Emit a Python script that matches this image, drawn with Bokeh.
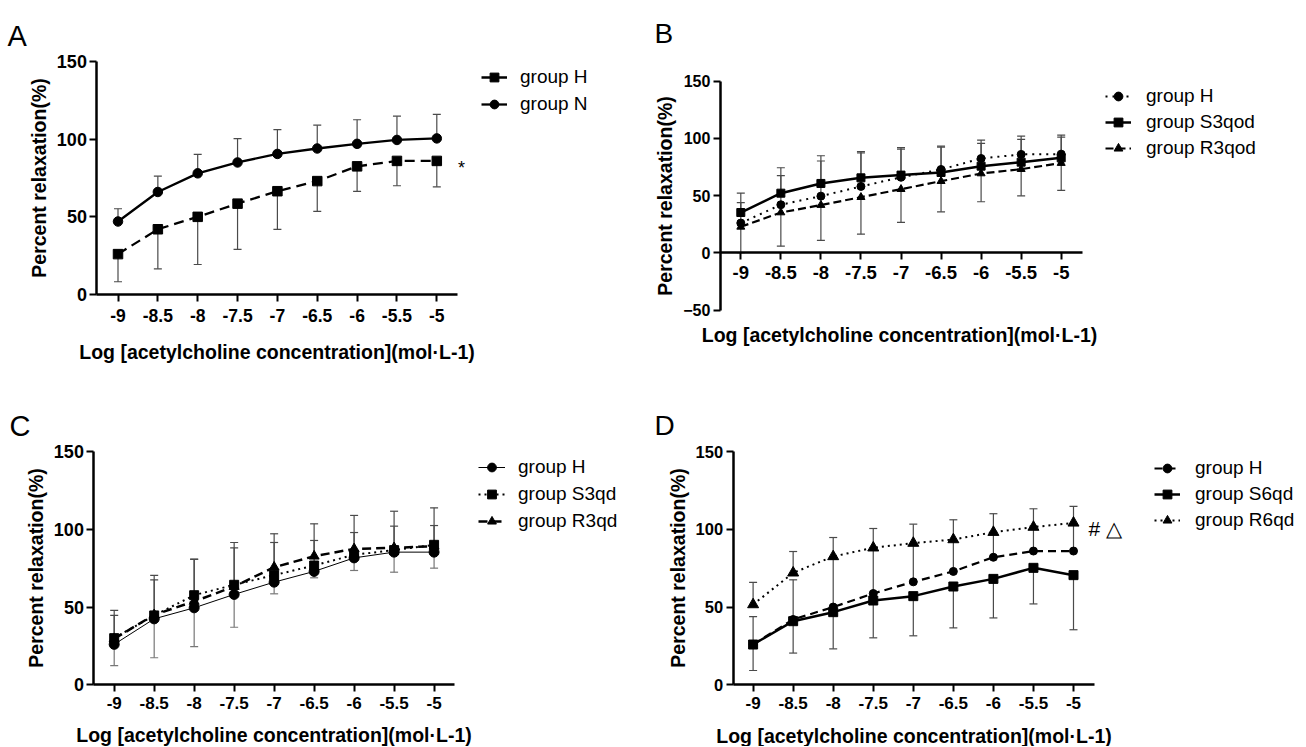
from bokeh.plotting import figure
from bokeh.models import Range1d, FixedTicker, NumeralTickFormatter, Legend, LegendItem, Label
from bokeh.layouts import column, row
from bokeh.embed import file_html
from bokeh.resources import INLINE

# ---------------- data ----------------
conc = [-9, -8.5, -8, -7.5, -7, -6.5, -6, -5.5, -5]
y_ticks = [0, 50, 100, 150]
y_ticks_b = [-50, 0, 50, 100, 150]
x_title = "Log [acetylcholine concentration](mol·L-1)"
y_title = "Percent relaxation(%)"
panel_letters = ["A", "B", "C", "D"]

# panel A
a_H_mean = [26, 42, 50, 58.5, 66.5, 73, 82.5, 86, 86]
a_H_sd = [17.8, 25.5, 30.7, 29.4, 24.6, 19.5, 16.1, 16.0, 16.7]
a_N_mean = [47, 66, 78, 85, 90.5, 94, 97, 99.5, 100.5]
a_N_sd = [8.2, 10.2, 12.2, 15.3, 15.7, 15.0, 15.5, 15.3, 15.4]

# panel B
b_H_mean = [26, 42, 49.5, 58, 66, 72.8, 82.4, 86, 86.2]
b_H_sd = [17.8, 25.5, 30.7, 29.4, 24.6, 19.5, 16.1, 16.0, 16.7]
b_S_mean = [35.2, 52.1, 60.6, 65.5, 67.9, 70.2, 75.7, 79.2, 83]
b_S_sd = [17, 22.2, 24.2, 23, 24, 23, 20, 20, 18]
b_R_mean = [22.7, 35.2, 41.7, 48.6, 55.6, 62.6, 69.3, 73.1, 78.4]
b_R_sd = [22.5, 29.4, 30.9, 32.3, 29.1, 26.8, 24.7, 23.3, 23.9]

# panel C
c_H_mean = [26, 42.4, 49.5, 58.1, 66, 72.9, 81.6, 85.3, 85.3]
c_H_sd = [13.7, 25, 24.9, 21.1, 7.5, 4.1, 8.1, 12.9, 10.3]
c_S_mean = [30, 44.6, 57.6, 64.3, 70.5, 76.7, 83.6, 86.6, 90]
c_S_sd = [14.6, 22.9, 23.2, 23.8, 21, 16.1, 14.3, 15.4, 12.4]
c_R_mean = [29.6, 45, 53.6, 63.2, 75.6, 82.7, 87.4, 88.1, 89.1]
c_R_sd = [18.2, 25.3, 27, 28.3, 21.5, 20.8, 21.5, 23.5, 24.7]

# panel D
d_H_mean = [26, 42, 50, 58.7, 66.2, 72.9, 82, 86, 86]
d_H_sd = [17.8, 25.5, 30.7, 29.4, 24.6, 19.5, 16.1, 16.0, 16.7]
d_S_mean = [25.9, 40.9, 46.7, 54.2, 57, 63.2, 68.1, 75.2, 70.5]
d_S_sd = [16.7, 20.5, 23.6, 24, 25.5, 26.6, 25.1, 23.2, 35.1]
d_R_mean = [51.6, 72, 82.5, 88.1, 91.1, 93.4, 98.1, 101.4, 104.1]
d_R_sd = [14.2, 13.7, 12.2, 12.4, 12.2, 12.7, 11.9, 11.8, 10.6]

FONT = "Liberation Sans"
BAR = "#4a4a4a"

# ---------------- geometry (reference pixel layout) ----------------
# ox, oy: page position of the figure's top-left; x9: pixel of x=-9; sx: px per x unit;
# y0: pixel of y=0; sy: px per y unit; yax: pixel column of the y axis; xend: right end of x axis
geom = {
    "A": dict(ox=0, oy=0, fw=640, fh=372, x9=117.5, sx=79.7, y0=294, sy=1.5533, yax=96.4, xend=457.3,
              yb=(0, 150), xtick=17.5, ytick=18, xt=19.5, yt=19.5, xls=7, xts=16, yls=3, yts=3),
    "B": dict(ox=640, oy=0, fw=665, fh=372, x9=740.3, sx=80.1, y0=252.3, sy=1.1444, yax=719.9, xend=1081.8,
              yb=(-50, 150), xtick=18.5, ytick=16, xt=19.5, yt=19.5, xls=6, xts=12, yls=3, yts=4),
    "C": dict(ox=0, oy=372, fw=640, fh=374, x9=113.7, sx=79.97, y0=684.3, sy=1.5553, yax=93.4, xend=454.3,
              yb=(0, 150), xtick=17, ytick=18, xt=19.5, yt=19.5, xls=5, xts=12, yls=3, yts=3),
    "D": dict(ox=640, oy=372, fw=665, fh=374, x9=752.6, sx=80.1, y0=684.3, sy=1.5553, yax=732.6, xend=1093.7,
              yb=(0, 150), xtick=17, ytick=16.5, xt=19.5, yt=19.5, xls=5, xts=13, yls=3, yts=4),
}


def to_data(g, px, py):
    return -9 + (px - g["x9"]) / g["sx"], (g["y0"] - py) / g["sy"]


def make_panel(key, series, legend_spec, yt_list, x_title_label=None):
    g = geom[key]
    x0, y1 = to_data(g, g["ox"], g["oy"])
    x1, y0 = to_data(g, g["ox"] + g["fw"], g["oy"] + g["fh"])
    p = figure(width=g["fw"], height=g["fh"],
               x_range=Range1d(x0, x1), y_range=Range1d(y0, y1),
               output_backend="svg", toolbar_location=None,
               min_border=0, min_border_left=0, min_border_right=0,
               min_border_top=0, min_border_bottom=0)
    p.outline_line_color = None
    p.grid.visible = False

    for ax in (p.xaxis[0], p.yaxis[0]):
        ax.axis_line_width = 2.5
        ax.axis_line_color = "black"
        ax.major_tick_line_width = 2
        ax.major_tick_out = 7
        ax.major_tick_in = 0
        ax.minor_tick_out = 0
        ax.minor_tick_in = 0
        ax.major_label_text_font = FONT
        ax.major_label_text_font_style = "bold"
        ax.major_label_text_color = "black"
        ax.axis_label_text_font = FONT
        ax.axis_label_text_font_style = "bold"
        ax.axis_label_text_color = "black"

    yax_x, _ = to_data(g, g["yax"], 0)
    xend, _ = to_data(g, g["xend"], 0)
    p.xaxis.fixed_location = 0
    p.xaxis.bounds = (yax_x, xend)
    p.xaxis.ticker = FixedTicker(ticks=conc)
    p.xaxis.formatter = NumeralTickFormatter(format="0.[0]")
    p.xaxis.major_label_standoff = g["xls"]
    p.xaxis.major_label_text_font_size = f"{g['xtick']}px"
    p.yaxis.fixed_location = yax_x
    p.yaxis.bounds = g["yb"]
    p.yaxis.ticker = FixedTicker(ticks=yt_list)
    p.yaxis.major_label_standoff = g["yls"]
    p.yaxis.major_label_text_font_size = f"{g['ytick']}px"
    p.yaxis.axis_label = y_title
    p.yaxis.axis_label_text_font_size = f"{g['yt']}px"
    p.yaxis.axis_label_standoff = g["yts"]

    if x_title_label is not None:
        lx, ly = to_data(g, *x_title_label)
        p.add_layout(Label(x=lx, y=ly, text=x_title, text_font=FONT, text_font_style="bold",
                           text_font_size=f"{g['xt']}px", text_align="center",
                           text_baseline="alphabetic", text_color="black"))
    else:
        p.xaxis.axis_label = x_title
        p.xaxis.axis_label_text_font_size = f"{g['xt']}px"
        p.xaxis.axis_label_standoff = g["xts"]

    # error bars first
    for s in series:
        tops = [m + s["dir"] * e for m, e in zip(s["mean"], s["sd"])]
        p.segment(x0=conc, y0=s["mean"], x1=conc, y1=tops, line_color=s.get("bar", BAR), line_width=1.2)
        p.scatter(x=conc, y=tops, marker="dash", size=8, line_color=s.get("bar", BAR), line_width=1.2)

    items = []
    for s in series:
        lr = p.line(x=conc, y=s["mean"], line_color="black", line_width=s["lw"], line_dash=s["dash"])
        mr = p.scatter(x=conc, y=s["mean"], marker=s["marker"], size=s["size"],
                       fill_color="black", line_color="black")
        items.append(LegendItem(label=s["label"], renderers=[lr, mr]))

    gl, row1, spacing, gw, stand, fs = legend_spec
    n = len(items)
    ih = 22
    lh = n * ih + (n - 1) * spacing
    x_off = gl - g["ox"]
    y_off = (g["oy"] + g["fh"]) - (row1 - ih / 2 + lh)
    leg = Legend(items=items, location=(x_off, y_off), padding=0, margin=0, spacing=spacing,
                 glyph_width=gw, glyph_height=ih, label_height=ih, label_standoff=stand,
                 label_text_font=FONT, label_text_font_size=f"{fs}px", label_text_color="black",
                 border_line_color=None, background_fill_alpha=0)
    p.add_layout(leg)
    return p, g


def add_text(p, g, text, px, py, size, align="left", style="normal"):
    x, y = to_data(g, px, py)
    p.add_layout(Label(x=x, y=y, text=text, text_font=FONT, text_font_size=f"{size}px",
                       text_font_style=style, text_align=align, text_baseline="alphabetic",
                       text_color="black"))


# ---------------- panels ----------------
pA, gA = make_panel("A", [
    dict(label="group H", mean=a_H_mean, sd=a_H_sd, dir=-1, marker="square", size=9.5, dash="10 6", lw=2.3),
    dict(label="group N", mean=a_N_mean, sd=a_N_sd, dir=1, marker="circle", size=9.5, dash="solid", lw=2.3),
], (481, 77, 5, 26, 13, 19), y_ticks)
add_text(pA, gA, panel_letters[0], 7, 35, 29)
add_text(pA, gA, "*", 461, 167, 18, align="center")

pB, gB = make_panel("B", [
    dict(label="group H", mean=b_H_mean, sd=b_H_sd, dir=1, marker="circle", size=8, dash="2 5", lw=2),
    dict(label="group S3qod", mean=b_S_mean, sd=b_S_sd, dir=1, marker="square", size=8, dash="solid", lw=2.5),
    dict(label="group R3qod", mean=b_R_mean, sd=b_R_sd, dir=-1, marker="triangle", size=8, dash="8 4", lw=2.2),
], (1105, 96, 4, 26, 15, 19), y_ticks_b, x_title_label=(899, 334))
add_text(pB, gB, panel_letters[1], 654, 33, 28)

pC, gC = make_panel("C", [
    dict(label="group H", mean=c_H_mean, sd=c_H_sd, dir=-1, marker="circle", size=10, dash="solid", lw=1,
         bar="#777777"),
    dict(label="group S3qd", mean=c_S_mean, sd=c_S_sd, dir=1, marker="square", size=9, dash="2 4", lw=2),
    dict(label="group R3qd", mean=c_R_mean, sd=c_R_sd, dir=1, marker="triangle", size=10, dash="9 5", lw=2.5),
], (478, 467.3, 5, 27, 13, 19), y_ticks)
add_text(pC, gC, panel_letters[2], 9, 425, 29)

pD, gD = make_panel("D", [
    dict(label="group H", mean=d_H_mean, sd=d_H_sd, dir=1, marker="circle", size=8, dash="8 5", lw=2.2),
    dict(label="group S6qd", mean=d_S_mean, sd=d_S_sd, dir=-1, marker="square", size=9, dash="solid", lw=2.5),
    dict(label="group R6qd", mean=d_R_mean, sd=d_R_sd, dir=1, marker="triangle", size=11, dash="2 4", lw=2),
], (1154, 468, 4, 26, 15, 19), y_ticks)
add_text(pD, gD, panel_letters[3], 654, 425, 28)
add_text(pD, gD, "# △", 1088, 528, 21)

layout = column(row(pA, pB), row(pC, pD))
open("out.html", "w").write(file_html(layout, INLINE))
